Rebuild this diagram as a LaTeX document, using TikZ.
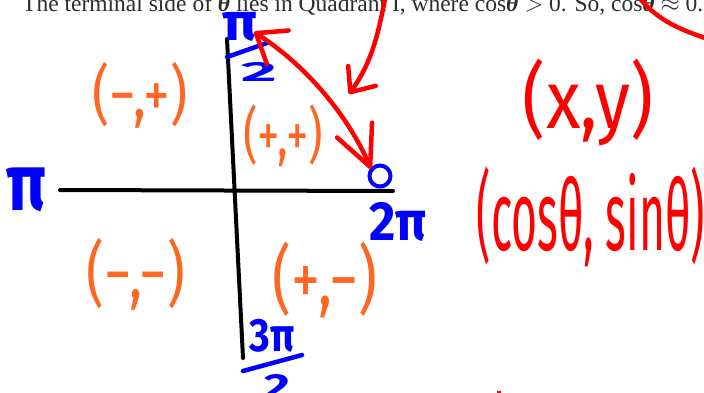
\documentclass[tikz,border=0pt]{standalone}
\usepackage{fontspec}
\setmainfont{Liberation Serif}
\newfontfamily\hwfont{Fira Sans}
\usepackage{graphicx}
\usetikzlibrary{arrows.meta}
\definecolor{hwblue}{RGB}{0,0,255}
\definecolor{hwred}{RGB}{255,0,0}
\definecolor{hworange}{RGB}{255,102,34}
\definecolor{printgray}{RGB}{45,45,45}
\newcommand{\hwfit}[3]{\resizebox*{#1}{#2}{\hwfont #3}}
\begin{document}
\begin{tikzpicture}[x=1pt,y=-1pt,
  hw/.style={inner sep=0pt, anchor=center},
  axisline/.style={line width=4pt, line cap=round, draw=black},
  redink/.style={line width=4.5pt, line cap=round, line join=round, draw=hwred},
  blueink/.style={line width=4.5pt, line cap=round, draw=hwblue}]
\useasboundingbox (0,0) rectangle (704,392);
\clip (0,0) rectangle (704,392);

% printed caption (cut at the top)
\node[anchor=base west, inner sep=0pt, text=printgray, font=\fontsize{23.5}{23.5}\selectfont] (caption) at (22,11.5)
  {The terminal side of \textbf{\textit{θ}} lies in Quadrant I, where cos\textbf{\textit{θ}} $>$ 0. So, cos\textbf{\textit{θ}} $\approx$ 0.};

% axes
\coordinate (xl) at (60,190);
\coordinate (xr) at (393,191);
\coordinate (yt) at (227,39);
\coordinate (yb) at (243,358);
\draw[axisline] (xl) -- (xr);
\draw[axisline] (yt) -- (yb);

% blue angle labels
\node[hw, text=hwblue] (piL) at (27,190) {\hwfit{40pt}{44pt}{\bfseries π}};
\node[hw, text=hwblue] (twopi) at (398,222) {\hwfit{57pt}{39pt}{\bfseries 2π}};
\node[hw, text=hwblue] (piTop) at (240,27) {\hwfit{35pt}{29pt}{\bfseries π}};
\node[hw, text=hwblue] (twoTop) at (259,72) {\hwfit{36pt}{19pt}{\bfseries 2}};
\coordinate (fa1) at (227,57);
\coordinate (fa2) at (267,43);
\draw[blueink] (fa1) -- (fa2);
\node[hw, text=hwblue] (threepi) at (272,336) {\hwfit{45pt}{33pt}{\bfseries 3π}};
\node[hw, text=hwblue] (twoBot) at (277,386) {\hwfit{26pt}{24pt}{\bfseries 2}};
\coordinate (fb1) at (243,371);
\coordinate (fb2) at (302,355);
\draw[blueink] (fb1) -- (fb2);

% point on the unit circle
\node[circle, draw=hwblue, line width=4pt, minimum size=21pt, inner sep=0pt] (pt) at (380,176) {};

% orange sign pairs
\node[hw, text=hworange] (q2) at (140,95) {\hwfit{95pt}{66pt}{(−,+)}};
\node[hw, text=hworange] (q1) at (283,136) {\hwfit{80pt}{62pt}{(+,+)}};
\node[hw, text=hworange] (q3) at (136,274) {\hwfit{98pt}{72pt}{(−,−)}};
\node[hw, text=hworange] (q4) at (325,280) {\hwfit{104pt}{76pt}{(+,−)}};

% red coordinate labels
\node[hw, text=hwred] (xy) at (588,103) {\hwfit{130pt}{87pt}{(x,y)}};
\node[hw, text=hwred] (cs) at (591,217) {\hwfit{228pt}{100pt}{(cosθ, sinθ)}};

% red arrows
\coordinate (tipA) at (254,32);
\coordinate (tipB) at (371,169);
\draw[redink, {Straight Barb[length=26pt,width=40pt,round]}-{Straight Barb[length=40pt,width=38pt,round]}]
  (tipA) .. controls (313,70) and (352,124) .. (tipB);
\coordinate (topStart) at (386,-6);
\coordinate (tipC) at (349,94);
\draw[redink, -{Straight Barb[length=20pt,width=34pt,round]}]
  (topStart) .. controls (378,35) and (372,62) .. (tipC);
\coordinate (crvA) at (638,-4);
\coordinate (crvB) at (708,39);
\draw[redink] (crvA) .. controls (655,18) and (675,28) .. (crvB);
\coordinate (dotA) at (497,392);
\coordinate (dotB) at (501,392);
\draw[hwred, line width=3pt] (dotA) -- (dotB);
\end{tikzpicture}
\end{document}
